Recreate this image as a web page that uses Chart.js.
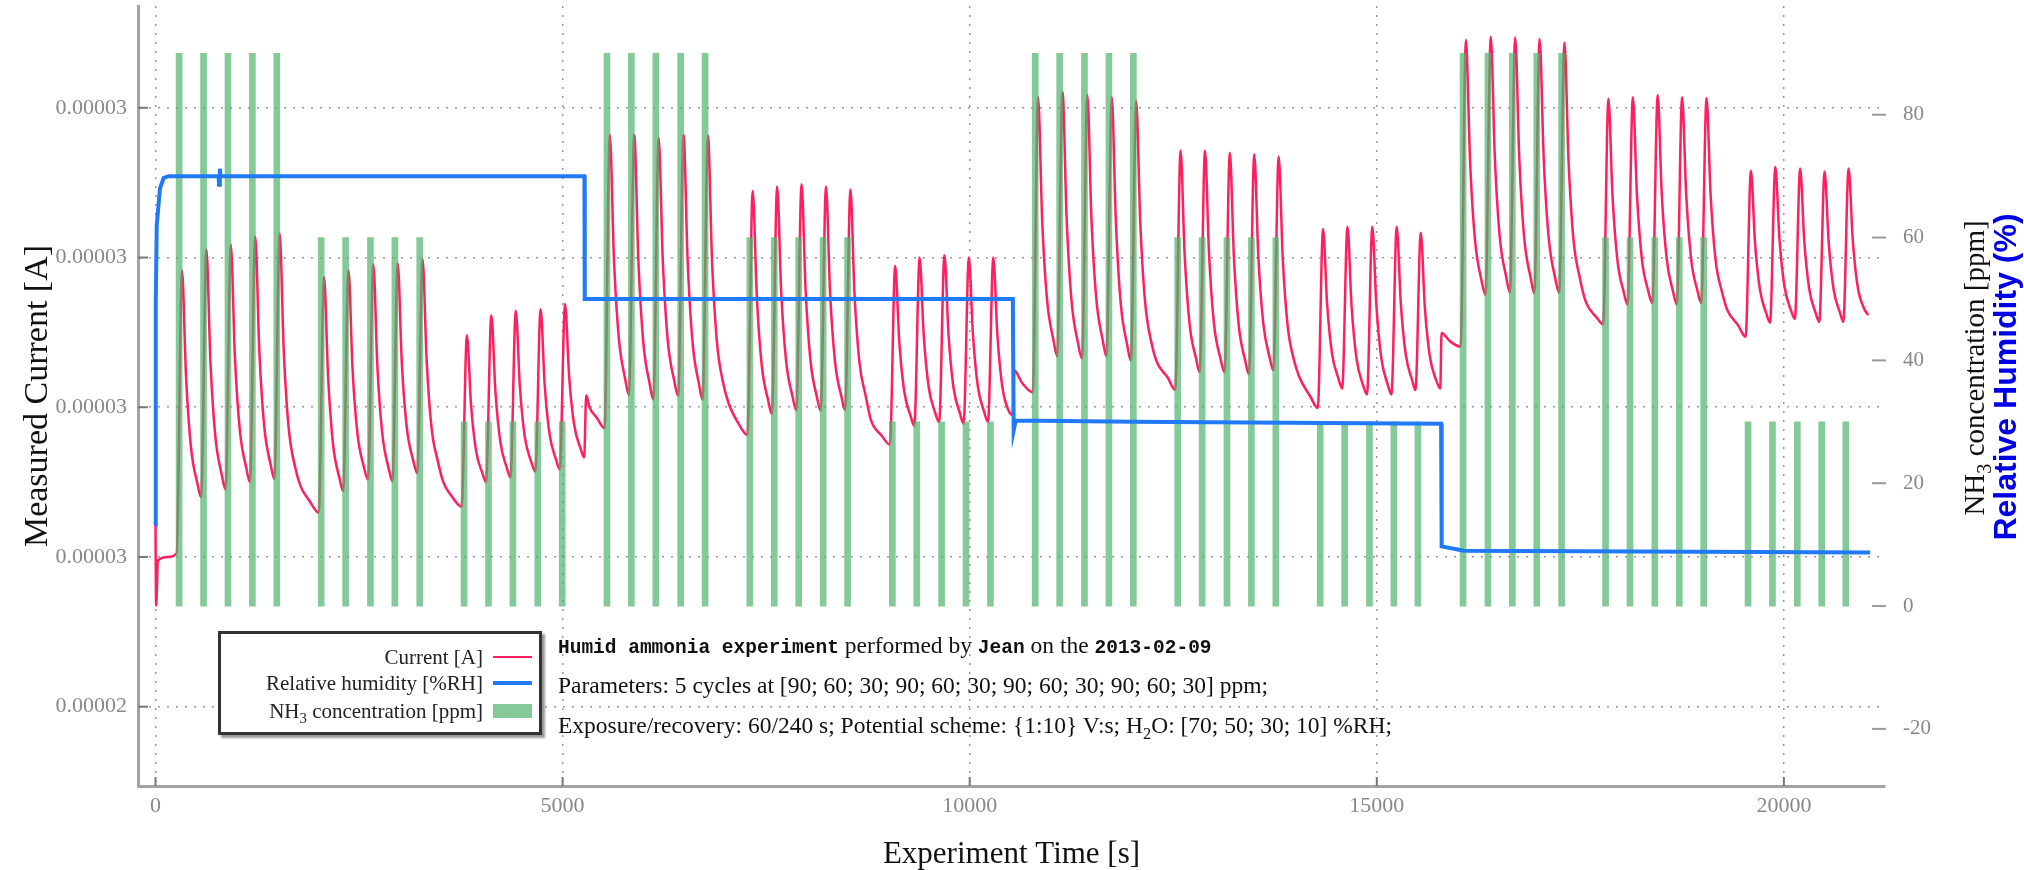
<!DOCTYPE html>
<html>
<head>
<meta charset="utf-8">
<script src="https://cdn.jsdelivr.net/npm/chart.js@4.4.1/dist/chart.umd.min.js"></script>
<style>
  html, body { margin: 0; padding: 0; background: #fff; }
  #wrap { position: relative; width: 2024px; height: 870px; overflow: hidden; }
  #chart { position: absolute; left: 0; top: 0; }
  .legend { position: absolute; left: 218px; top: 631px; width: 318px; height: 98px; border: 3px solid #333;
            box-shadow: 3px 3px 2px #999; background: #fff; font-family: "Liberation Serif", serif; font-size: 21px; color: #222; }
  .legend .lab { position: absolute; left: 0; width: 262px; text-align: right; line-height: 24px; white-space: nowrap; }
  .legend .sw { position: absolute; left: 272px; width: 39px; }
  .note { position: absolute; left: 558px; font-family: "Liberation Serif", serif; font-size: 23.5px; color: #111; white-space: nowrap; line-height: 36px; }
  .mono { font-family: "Liberation Mono", monospace; font-weight: bold; font-size: 19.5px; }
  .rot { position: absolute; white-space: nowrap; transform: translate(-50%, -50%) rotate(-90deg); }
  sub { font-size: 70%; }
</style>
</head>
<body>
<div id="wrap">
  <canvas id="chart" width="2024" height="870"></canvas>

  <div class="legend">
    <div class="lab" style="top: 11px;">Current [A]</div>
    <div class="sw" style="top: 22px; height: 2px; background: #ff1f5e;"></div>
    <div class="lab" style="top: 37px;">Relative humidity [%RH]</div>
    <div class="sw" style="top: 47px; height: 4px; background: #2079f5;"></div>
    <div class="lab" style="top: 65px;">NH<sub>3</sub> concentration [ppm]</div>
    <div class="sw" style="top: 70px; height: 14px; background: rgba(80,180,110,0.7);"></div>
  </div>

  <div class="note" style="top: 627px;"><span class="mono">Humid ammonia experiment</span> performed by <span class="mono">Jean</span> on the <span class="mono">2013-02-09</span></div>
  <div class="note" style="top: 667px;">Parameters: 5 cycles at [90; 60; 30; 90; 60; 30; 90; 60; 30; 90; 60; 30] ppm;</div>
  <div class="note" style="top: 707px;">Exposure/recovery: 60/240 s; Potential scheme: {1:10} V:s; H<sub>2</sub>O: [70; 50; 30; 10] %RH;</div>

  <div class="rot" style="left: 1977px; top: 368px; font-family: 'Liberation Serif', serif; font-size: 29px; color: #111;">NH<sub>3</sub> concentration [ppm]</div>
  <div class="rot" style="left: 2005px; top: 377px; font-family: 'Liberation Sans', sans-serif; font-weight: bold; font-size: 32px; color: #0000e6;">Relative Humidity (%)</div>
</div>

<script>
// exposure centres [s], one row per block of five cycles
const exposureTimes = [
  [290, 590, 890, 1190, 1490],
  [2035, 2335, 2640, 2940, 3245],
  [3790, 4090, 4390, 4695, 4995],
  [5545, 5845, 6145, 6450, 6750],
  [7300, 7600, 7900, 8200, 8500],
  [9050, 9350, 9655, 9955, 10255],
  [10805, 11105, 11410, 11710, 12010],
  [12555, 12855, 13160, 13460, 13760],
  [14305, 14605, 14910, 15210, 15505],
  [16060, 16365, 16665, 16965, 17270],
  [17810, 18110, 18415, 18715, 19015],
  [19560, 19860, 20165, 20465, 20760]
];
const nh3Levels = [90, 60, 30, 90, 60, 30, 90, 60, 30, 90, 60, 30];

// current in µA
const currentStart = [[0, 26.44], [8, 25.35], [30, 25.95], [150, 26.0]];
const cycleOffsets = [-30, 35, 85, 145, 225];
// per cycle: [start, peak, decay1, decay2, decay3]
const currentCycles = [
  [[26.05, 29.83, 28.41, 27.47, 26.98], [26.80, 30.11, 28.60, 27.61, 27.09], [26.90, 30.17, 28.68, 27.70, 27.19], [27.00, 30.28, 28.76, 27.75, 27.23], [27.04, 30.32, 28.76, 27.73, 27.20]],
  [[26.59, 29.74, 28.40, 27.51, 27.05], [26.88, 29.83, 28.51, 27.65, 27.20], [27.03, 29.91, 28.55, 27.65, 27.18], [27.01, 29.92, 28.60, 27.74, 27.29], [27.12, 29.98, 28.63, 27.73, 27.27]],
  [[26.67, 28.96, 28.04, 27.43, 27.12], [27.00, 29.23, 28.21, 27.54, 27.19], [27.06, 29.29, 28.28, 27.61, 27.27], [27.14, 29.31, 28.30, 27.64, 27.30], [27.17, 29.38, 28.42, 27.78, 27.45]],
  [[27.72, 31.64, 30.00, 28.93, 28.37], [28.16, 31.64, 29.98, 28.88, 28.31], [28.10, 31.60, 29.98, 28.91, 28.36], [28.15, 31.64, 29.98, 28.88, 28.31], [28.10, 31.63, 29.97, 28.88, 28.31]],
  [[27.63, 30.89, 29.49, 28.57, 28.09], [27.91, 30.95, 29.54, 28.62, 28.14], [27.96, 30.98, 29.56, 28.62, 28.13], [27.95, 30.95, 29.54, 28.62, 28.14], [27.96, 30.91, 29.52, 28.61, 28.14]],
  [[27.50, 29.89, 28.88, 28.22, 27.88], [27.75, 30.00, 28.97, 28.28, 27.93], [27.80, 30.03, 28.97, 28.27, 27.92], [27.78, 30.00, 28.97, 28.28, 27.93], [27.80, 30.00, 28.97, 28.28, 27.95]],
  [[28.20, 32.14, 30.51, 29.44, 28.89], [28.68, 32.21, 30.54, 29.43, 28.86], [28.65, 32.17, 30.53, 29.45, 28.89], [28.68, 32.14, 30.49, 29.39, 28.83], [28.62, 32.09, 30.47, 29.40, 28.85]],
  [[28.23, 31.43, 30.04, 29.12, 28.65], [28.47, 31.43, 30.04, 29.12, 28.65], [28.47, 31.40, 30.01, 29.09, 28.62], [28.44, 31.38, 30.02, 29.13, 28.66], [28.49, 31.35, 29.99, 29.09, 28.62]],
  [[27.99, 30.38, 29.38, 28.72, 28.38], [28.25, 30.41, 29.36, 28.66, 28.30], [28.17, 30.41, 29.36, 28.66, 28.30], [28.17, 30.41, 29.39, 28.71, 28.36], [28.23, 30.33, 29.34, 28.69, 28.36]],
  [[28.81, 32.91, 31.31, 30.25, 29.70], [29.50, 32.95, 31.34, 30.28, 29.74], [29.53, 32.94, 31.33, 30.27, 29.73], [29.52, 32.92, 31.33, 30.28, 29.73], [29.53, 32.87, 31.30, 30.25, 29.72]],
  [[29.11, 32.12, 30.83, 29.97, 29.53], [29.37, 32.14, 30.85, 29.99, 29.55], [29.39, 32.17, 30.85, 29.99, 29.54], [29.37, 32.14, 30.85, 29.99, 29.55], [29.39, 32.13, 30.84, 29.98, 29.54]],
  [[28.94, 31.16, 30.21, 29.58, 29.25], [29.13, 31.21, 30.26, 29.63, 29.30], [29.18, 31.19, 30.23, 29.59, 29.26], [29.14, 31.15, 30.21, 29.58, 29.26], [29.14, 31.19, 30.25, 29.62, 29.32]]
];
// long recovery after the last cycle of each block: [seconds after last exposure, µA]
const blockTails = [
  [[290, 26.95], [400, 26.75]],
  [[290, 27.00], [400, 26.80]],
  [[270, 27.33], [295, 28.16], [335, 28.00], [425, 27.86]],
  [[290, 28.05], [400, 27.80]],
  [[290, 27.82], [420, 27.62]],
  [[272, 27.90], [295, 28.49], [385, 28.33]],
  [[290, 28.60], [420, 28.40]],
  [[290, 28.40], [420, 28.15]],
  [[275, 28.25], [290, 28.99], [395, 28.88]],
  [[300, 29.40], [430, 29.20]],
  [[290, 29.30], [420, 29.10]],
  [[277, 29.23]]
];

// relative humidity [%RH]
const rhTimes = [0, 3, 15, 55, 100, 160, 775, 780, 790, 800, 5268, 5272, 10530, 10540, 10565, 12000, 15790, 15797, 16070, 21060];
const rhValues = [13.2, 49, 62, 68, 69.7, 70, 70, 68.6, 71.2, 70, 70, 50, 50, 28.6, 30.2, 30.0, 29.7, 9.7, 9.0, 8.7];

const xTickValues = [0, 5000, 10000, 15000, 20000];
const xTickLabels = ["0", "5000", "10000", "15000", "20000"];
const currentTickValues = [0.000024, 0.000026, 0.000028, 0.00003, 0.000032];
const currentTickLabels = ["0.00002", "0.00003", "0.00003", "0.00003", "0.00003"];
const rightTickValues = [-20, 0, 20, 40, 60, 80];
const rightTickLabels = ["-20", "0", "20", "40", "60", "80"];

const currentData = currentStart.map(([t, v]) => ({ x: t, y: v * 1e-6 }));
exposureTimes.forEach((row, b) => {
  row.forEach((tc, c) => {
    currentCycles[b][c].forEach((v, k) => currentData.push({ x: tc + cycleOffsets[k], y: v * 1e-6 }));
  });
  const last = row[row.length - 1];
  blockTails[b].forEach(([dt, v]) => currentData.push({ x: last + dt, y: v * 1e-6 }));
});
const nh3Data = exposureTimes.flatMap((row, b) => row.map(tc => ({ x: tc, y: nh3Levels[b] })));
const rhData = rhTimes.map((t, i) => ({ x: t, y: rhValues[i] }));

const innerTicks = {
  id: "innerTicks",
  beforeDatasetsDraw(chart) {
    const { ctx, chartArea: a, scales } = chart;
    ctx.save();
    ctx.lineWidth = 2;
    ctx.strokeStyle = "#777";
    scales.y.ticks.forEach(t => {
      const p = scales.y.getPixelForValue(t.value);
      ctx.beginPath(); ctx.moveTo(a.left, p); ctx.lineTo(a.left + 10, p); ctx.stroke();
    });
    scales.x.ticks.forEach(t => {
      const p = scales.x.getPixelForValue(t.value);
      ctx.beginPath(); ctx.moveTo(p, a.bottom); ctx.lineTo(p, a.bottom - 9); ctx.stroke();
    });
    ctx.strokeStyle = "#999";
    scales.yR.ticks.forEach(t => {
      const p = scales.yR.getPixelForValue(t.value);
      ctx.beginPath(); ctx.moveTo(a.right - 13, p); ctx.lineTo(a.right + 1, p); ctx.stroke();
    });
    ctx.restore();
  }
};

const noPad = s => { s.paddingTop = 0; s.paddingBottom = 0; s.paddingLeft = 0; s.paddingRight = 0; };

Chart.defaults.font.family = "'Liberation Serif', serif";

new Chart(document.getElementById("chart"), {
  type: "line",
  data: {
    datasets: [
      {
        label: "Relative humidity [%RH]",
        data: rhData,
        yAxisID: "yR",
        borderColor: "#2079f5",
        borderWidth: 4,
        pointRadius: 0,
        tension: 0,
        order: 0
      },
      {
        type: "bar",
        label: "NH3 concentration [ppm]",
        data: nh3Data,
        yAxisID: "yR",
        backgroundColor: "rgba(80,180,110,0.7)",
        barThickness: 6,
        order: 1
      },
      {
        label: "Current [A]",
        data: currentData,
        yAxisID: "y",
        borderColor: "#ff1f5e",
        borderWidth: 2.5,
        pointRadius: 0,
        cubicInterpolationMode: "monotone",
        order: 2
      }
    ]
  },
  options: {
    responsive: false,
    animation: false,
    devicePixelRatio: 1,
    layout: { padding: { top: 6, left: 0, right: 0, bottom: 0 } },
    plugins: {
      legend: { display: false },
      tooltip: { enabled: false }
    },
    scales: {
      x: {
        type: "linear",
        min: -215,
        max: 21242,
        offset: false,
        afterFit: s => { s.height = 84; noPad(s); },
        afterBuildTicks: s => { s.ticks = xTickValues.map(v => ({ value: v })); },
        ticks: {
          padding: 7,
          color: "#888",
          font: { size: 22 },
          maxRotation: 0,
          callback: v => xTickLabels[xTickValues.indexOf(v)]
        },
        grid: { color: "#9a9a9a", lineWidth: 1.5, drawTicks: false, offset: false },
        border: { display: true, color: "#a3a3a3", width: 3, dash: [2, 7] },
        title: {
          display: true,
          text: "Experiment Time [s]",
          color: "#111",
          font: { size: 31 },
          padding: { top: 0, bottom: -3 }
        }
      },
      y: {
        position: "left",
        min: 22.94e-6,
        max: 33.36e-6,
        afterFit: s => { s.width = 138; noPad(s); },
        afterBuildTicks: s => { s.ticks = currentTickValues.map(v => ({ value: v })); },
        ticks: {
          padding: 11,
          color: "#888",
          font: { size: 22 },
          callback: (v, i) => currentTickLabels[i]
        },
        grid: { color: "#9a9a9a", lineWidth: 1.5, drawTicks: false },
        border: { display: true, color: "#a3a3a3", width: 3, dash: [2, 7] },
        title: {
          display: true,
          text: "Measured Current [A]",
          color: "#111",
          font: { size: 34 },
          padding: { top: 18, bottom: 0 }
        }
      },
      yR: {
        position: "right",
        min: -29.3,
        max: 97.7,
        afterFit: s => { s.width = 139; noPad(s); },
        afterBuildTicks: s => { s.ticks = rightTickValues.map(v => ({ value: v })); },
        ticks: {
          padding: 18,
          color: "#888",
          font: { size: 21 },
          callback: (v, i) => rightTickLabels[i]
        },
        grid: { display: false, drawTicks: false },
        border: { display: false }
      }
    }
  },
  plugins: [innerTicks]
});
</script>
</body>
</html>
